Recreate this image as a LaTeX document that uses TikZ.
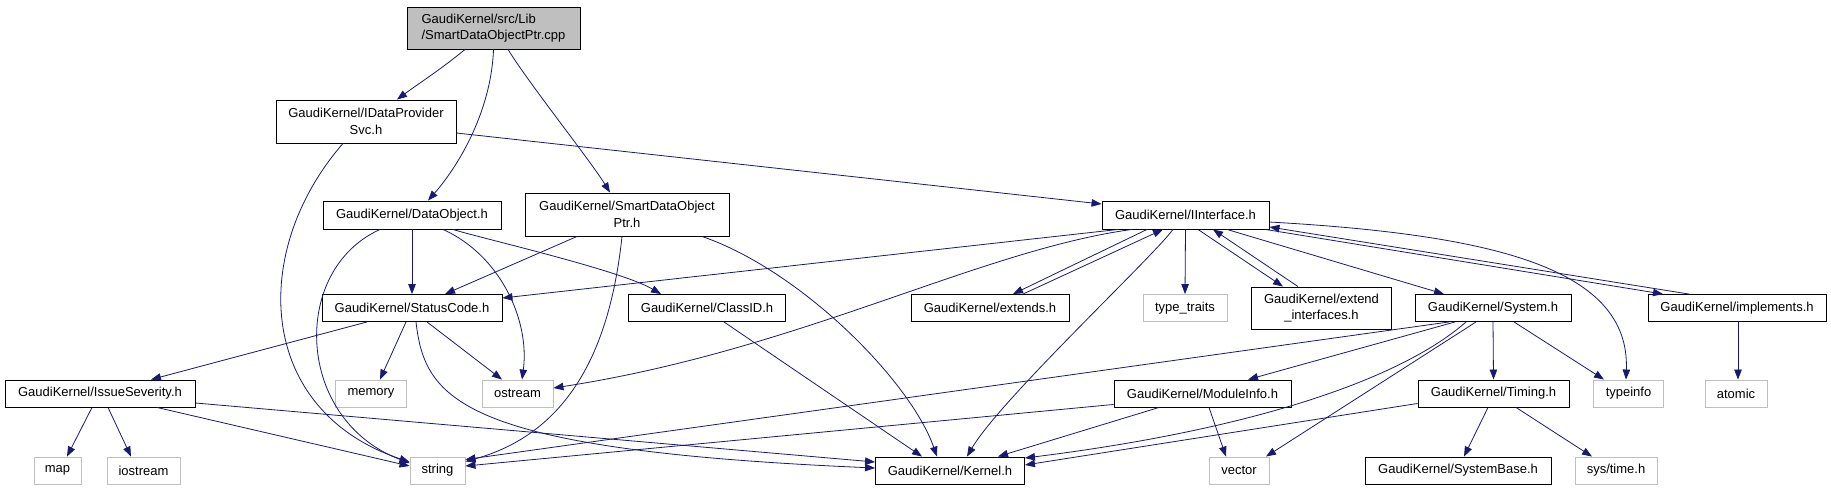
\documentclass[tikz,border=0pt]{standalone}
\usepackage{fontspec}
\setmainfont{Liberation Sans}
\usetikzlibrary{arrows.meta}
\definecolor{edgeblue}{HTML}{191970}
\definecolor{stdgrey}{HTML}{BFBFBF}
\begin{document}
\begin{tikzpicture}[x=1pt, y=-1pt,
  hdr/.style = {rectangle, draw=black, line width=0.9pt, inner sep=0pt, align=center,
                font=\fontsize{13}{16.5}\selectfont, minimum height=27pt},
  stdh/.style = {hdr, draw=stdgrey},
  dep/.style = {draw=edgeblue, line width=0.8pt, -{Triangle[length=10pt,width=7.5pt]}}]
\useasboundingbox (0,0) rectangle (1831,491);
% documented headers
\node[hdr, fill=stdgrey, align=left, minimum width=173pt, minimum height=42pt] (root) at (493.5,28) {GaudiKernel/src/Lib\\/SmartDataObjectPtr.cpp};
\node[hdr, minimum width=180pt, minimum height=43pt] (idp) at (366,121.5) {GaudiKernel/IDataProvider\\Svc.h};
\node[hdr, minimum width=178pt, minimum height=28pt] (dobj) at (412,215) {GaudiKernel/DataObject.h};
\node[hdr, minimum width=204pt, minimum height=43pt] (sdop) at (627,214.5) {GaudiKernel/SmartDataObject\\Ptr.h};
\node[hdr, minimum width=167pt, minimum height=28pt] (iif) at (1185.5,215) {GaudiKernel/IInterface.h};
\node[hdr, minimum width=180pt] (sc) at (412,308) {GaudiKernel/StatusCode.h};
\node[hdr, minimum width=157pt] (cid) at (707,308) {GaudiKernel/ClassID.h};
\node[hdr, minimum width=158pt] (ext) at (990,308) {GaudiKernel/extends.h};
\node[hdr, minimum width=140pt, minimum height=42pt] (exti) at (1321.5,308) {GaudiKernel/extend\\\_interfaces.h};
\node[hdr, minimum width=156pt] (sys) at (1493,308) {GaudiKernel/System.h};
\node[hdr, minimum width=178pt] (impl) at (1737,308) {GaudiKernel/implements.h};
\node[hdr, minimum width=190pt] (isev) at (100,393.5) {GaudiKernel/IssueSeverity.h};
\node[hdr, minimum width=177pt] (mod) at (1202.5,393.5) {GaudiKernel/ModuleInfo.h};
\node[hdr, minimum width=151pt] (tim) at (1493.5,393.5) {GaudiKernel/Timing.h};
\node[hdr, minimum width=149pt] (kern) at (950,470.5) {GaudiKernel/Kernel.h};
\node[hdr, minimum width=186pt] (sbase) at (1458,470.5) {GaudiKernel/SystemBase.h};
% system headers
\foreach \n/\x/\y/\w/\txt in {tt/1185/308/84/type\_traits, mem/371/393.5/71/memory,
    ost/517.5/393.5/71/ostream, tinfo/1628.5/393.5/70/typeinfo, atom/1736/393.5/62/atomic,
    map/57.5/470.5/47/map, ios/143.5/470.5/73/iostream, str/437.5/470.5/55/string,
    vec/1239/470.5/60/vector, stime/1616/470.5/82/{sys/time.h}}
    \node[stdh, minimum width=\w pt] (\n) at (\x,\y) {\txt};
% includes
\draw[dep] ([xshift=-28.5pt]root.south) .. controls (440,70) and (418,84) .. ([xshift=31pt]idp.north);
\draw[dep] (root.south) .. controls (491,115) and (455,170) .. ([xshift=16pt]dobj.north);
\draw[dep] ([xshift=14.5pt]root.south) .. controls (530,85) and (590,160) .. ([xshift=-17pt]sdop.north);
\draw[dep] ([yshift=-11.5pt]idp.east) -- ([yshift=11pt]iif.west);
\draw[dep] ([xshift=-23pt]idp.south) .. controls (250,250) and (255,410) .. ([yshift=8.5pt]str.west);
\draw[dep] (dobj.south) -- (sc.north);
\draw[dep] ([xshift=41pt]dobj.south) .. controls (480,238) and (620,270) .. ([xshift=-46pt]cid.north);
\draw[dep] ([xshift=-32pt]dobj.south) .. controls (290,270) and (295,420) .. ([yshift=7.5pt]str.west);
\draw[dep] ([xshift=31pt]dobj.south) .. controls (500,255) and (530,320) .. ([xshift=4.5pt]ost.north);
\draw[dep] ([xshift=-50pt]sdop.south) -- ([xshift=33pt]sc.north);
\draw[dep] ([xshift=-5pt]sdop.south) .. controls (612,330) and (580,430) .. ([yshift=9pt]str.east);
\draw[dep] ([xshift=75pt]sdop.south) .. controls (800,270) and (910,380) .. ([xshift=-13pt]kern.north);
% IInterface
\draw[dep] ([xshift=-67.5pt]iif.south) -- ([yshift=10pt]sc.east);
\draw[dep] ([xshift=-53.5pt]iif.south) .. controls (980,250) and (800,350) .. ([yshift=5.5pt]ost.east);
\draw[dep] ([xshift=-38.5pt]iif.south) -- ([xshift=23pt]ext.north);
\draw[dep] ([xshift=33pt]ext.north) -- ([xshift=-22.5pt]iif.south);
\draw[dep] ([xshift=-12.5pt]iif.south) .. controls (1150,260) and (1000,400) .. ([xshift=17pt]kern.north);
\draw[dep] (iif.south) -- (tt.north);
\draw[dep] ([xshift=12.5pt]iif.south) -- ([xshift=-38.5pt]exti.north);
\draw[dep] ([xshift=-23.5pt]exti.north) -- ([xshift=27.5pt]iif.south);
\draw[dep] ([xshift=41.5pt]iif.south) -- ([xshift=-49pt]sys.north);
\draw[dep] ([yshift=-7pt]iif.east) .. controls (1500,235) and (1630,270) .. ([xshift=-2.5pt]tinfo.north);
\draw[dep] ([xshift=-4pt]iif.south east) -- ([xshift=-74pt]impl.north);
\draw[dep] ([xshift=-48pt]impl.north) -- ([yshift=-12pt]iif.east);
% StatusCode, ClassID, IssueSeverity
\draw[dep] ([xshift=-45pt]sc.south) -- ([xshift=51pt]isev.north);
\draw[dep] ([xshift=-6pt]sc.south) -- ([xshift=9pt]mem.north);
\draw[dep] ([xshift=15pt]sc.south) -- ([xshift=-15.5pt]ost.north);
\draw[dep] ([xshift=4pt]sc.south) .. controls (425,400) and (460,450) .. ([yshift=2.5pt]kern.west);
\draw[dep] ([xshift=17pt]cid.south) -- ([xshift=-28pt]kern.north);
\draw[dep] ([xshift=-8pt]isev.south) -- ([xshift=9.5pt]map.north);
\draw[dep] ([xshift=8pt]isev.south) -- ([xshift=-12.5pt]ios.north);
\draw[dep] ([xshift=57pt]isev.south) -- ([yshift=4.5pt]str.west);
\draw[dep] ([yshift=-9.5pt]isev.east) -- ([yshift=8.5pt]kern.west);
% System, ModuleInfo, Timing
\draw[dep] ([xshift=-43.5pt]mod.south) -- ([xshift=48pt]kern.north);
\draw[dep] ([yshift=3pt]mod.south west) -- ([yshift=4.5pt]str.east);
\draw[dep] ([xshift=6.5pt]mod.south) -- ([xshift=-13pt]vec.north);
\draw[dep] ([xshift=-44pt]sys.south) -- ([yshift=11pt]str.east);
\draw[dep] ([xshift=-38pt]sys.south) -- ([xshift=45.5pt]mod.north);
\draw[dep] ([xshift=-27pt]sys.south) .. controls (1400,380) and (1250,430) .. ([yshift=12.5pt]kern.east);
\draw[dep] ([yshift=4pt]tim.south west) -- ([yshift=5.5pt]kern.east);
\draw[dep] ([xshift=-17pt]sys.south) -- ([xshift=27pt]vec.north);
\draw[dep] (sys.south) -- (tim.north);
\draw[dep] ([xshift=21pt]sys.south) -- ([xshift=-24.5pt]tinfo.north);
\draw[dep] ([xshift=-5.5pt]tim.south) -- ([xshift=6pt]sbase.north);
\draw[dep] ([xshift=22.5pt]tim.south) -- ([xshift=-24pt]stime.north);
\draw[dep] ([xshift=1pt]impl.south) -- ([xshift=2pt]atom.north);
\end{tikzpicture}
\end{document}
